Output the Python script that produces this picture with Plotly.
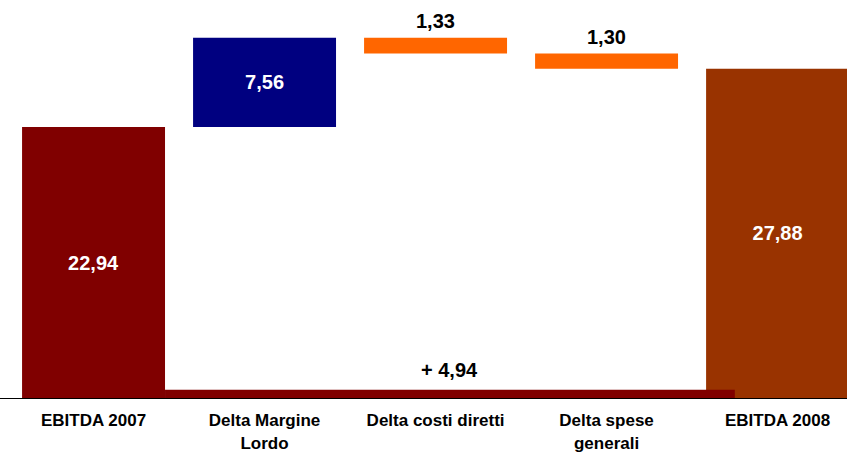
import plotly.graph_objects as go

# ---- data ----
categories = ["EBITDA 2007", "Delta Margine<br>Lordo", "Delta costi diretti",
              "Delta spese<br>generali", "EBITDA 2008"]
ebitda_2007 = 22.94
deltas = [7.56, -1.33, -1.30]
ebitda_2008 = 27.88
value_labels = ["22,94", "7,56", "1,33", "1,30", "27,88"]
diff_label = "+ 4,94"
diff_bar_height = 0.7

# ---- styles ----
FONT = "Arial, Liberation Sans, sans-serif"
colors = ["#800000", "#000080", "#FF6600", "#FF6600", "#993300"]
BAR_W = 0.836

# bases/heights via cumulative sums
bases, heights = [0], [ebitda_2007]
level = ebitda_2007
for d in deltas:
    new = level + d
    bases.append(min(level, new))
    heights.append(abs(d))
    level = new
bases.append(0)
heights.append(ebitda_2008)

xs = list(range(len(categories)))
inside = [True, True, False, False, True]

fig = go.Figure()
fig.add_trace(go.Bar(
    x=xs, y=heights, base=bases, width=BAR_W,
    marker=dict(color=colors, line=dict(width=0)),
    text=[t if ins else "" for t, ins in zip(value_labels, inside)],
    textposition="inside", insidetextanchor="middle",
    textfont=dict(family=FONT, size=20, color="white", weight="bold"),
    hoverinfo="skip", showlegend=False,
))

# difference bar spanning from end of first bar into last bar
x_start, x_end = BAR_W / 2, 3.75
fig.add_trace(go.Bar(
    x=[(x_start + x_end) / 2], y=[diff_bar_height], base=[0],
    width=[x_end - x_start],
    marker=dict(color="#800000", line=dict(width=0)),
    hoverinfo="skip", showlegend=False,
))

annotations = []
for i, (t, ins) in enumerate(zip(value_labels, inside)):
    if not ins:
        annotations.append(dict(
            x=xs[i], y=bases[i] + heights[i], xref="x", yref="y",
            text="<b>%s</b>" % t, showarrow=False, yanchor="bottom", yshift=4,
            font=dict(family=FONT, size=20, color="black")))
annotations.append(dict(
    x=(x_start + x_end) / 2, y=diff_bar_height, xref="x", yref="y",
    text="<b>%s</b>" % diff_label, showarrow=False, yanchor="bottom", yshift=7,
    font=dict(family=FONT, size=20, color="black")))

fig.update_layout(
    width=847, height=452,
    margin=dict(l=0, r=0, t=0, b=53.5),
    paper_bgcolor="white", plot_bgcolor="white",
    barmode="overlay",
    annotations=annotations,
    xaxis=dict(
        range=[-0.547, 4.406], tickmode="array", tickvals=xs,
        ticktext=["<b>%s</b>" % c for c in categories],
        tickfont=dict(family=FONT, size=17, color="black"),
        ticklabelstandoff=7, automargin=False,
        showline=True, linecolor="black", linewidth=1,
        showgrid=False, zeroline=False, ticks="",
    ),
    yaxis=dict(range=[0, 33.7], visible=False, showgrid=False, zeroline=False,
               automargin=False),
)

fig.write_html("out.html")
